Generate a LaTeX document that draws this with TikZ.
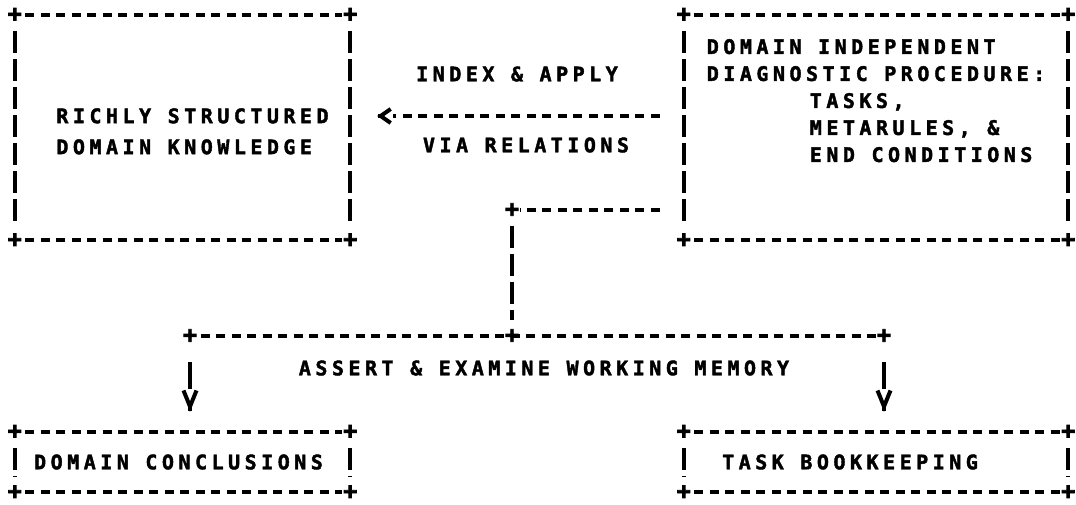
\documentclass[tikz,border=0pt]{standalone}
\usepackage{fontspec}
\newfontfamily\ttyfont{DejaVu Sans Mono Bold}[LetterSpace=22.5, FakeBold=2]
\newfontfamily\crossfont{DejaVu Sans Mono Bold}[FakeBold=3.5]
\usepackage{tikz}
\usetikzlibrary{arrows.meta}
\newcommand{\ttyset}{\ttyfont\fontsize{20}{27}\selectfont}
\tikzstyle{plain}  = [line width=4pt]
\tikzstyle{hdash}  = [plain, dash pattern=on 9pt off 6.5pt, shorten <=10.5pt, shorten >=8pt]
\tikzstyle{vbar}   = [plain, dash pattern=on 22pt off 6pt, shorten <=16pt, shorten >=16pt]
\tikzstyle{vtip}   = [-{Straight Barb[length=16pt,width=13pt]}]
\tikzstyle{ltip}   = [-{Straight Barb[length=10pt,width=14pt]}]
% box drawn the typewriter way: + corners, - tops, | sides
\newcommand{\asciiframe}[1]{%
  \draw[hdash] (#1.north west) -- (#1.north east);
  \draw[hdash] (#1.south west) -- (#1.south east);
  \draw[vbar] (#1.north west) -- (#1.south west);
  \draw[vbar] (#1.north east) -- (#1.south east);
  \foreach \c in {north west,north east,south west,south east}
    \node[plus] at (#1.\c) {+};
}

\begin{document}
\begin{tikzpicture}[
    x=1pt, y=-1pt,
    frame/.style={inner sep=0pt, align=left, font=\ttyset},
    lbl/.style={inner sep=0pt, font=\ttyset},
    plus/.style={inner sep=0pt, font=\crossfont\fontsize{23}{27}\selectfont},
  ]
  \useasboundingbox (0,0) rectangle (1076,505);

  \node[frame, minimum width=335pt, minimum height=225pt] (know) at (182.5,127.5)
    {\rule{0pt}{22.6pt}\hspace*{20pt}RICHLY STRUCTURED\\[4pt] \hspace*{20pt}DOMAIN KNOWLEDGE};
  \node[frame, minimum width=384pt, minimum height=225pt] (proc) at (876,127.5)
    {DOMAIN INDEPENDENT\\ DIAGNOSTIC PROCEDURE:\\
     \hspace*{103pt}TASKS,\\ \hspace*{103pt}METARULES, \&\\ \hspace*{103pt}END CONDITIONS\\
     \mbox{}\\ \mbox{}};
  \node[frame, minimum width=335pt, minimum height=60pt] (concl) at (182.5,462)
    {DOMAIN CONCLUSIONS\hspace*{8pt}};
  \node[frame, minimum width=384pt, minimum height=60pt] (book) at (876,462)
    {TASK BOOKKEEPING\hspace*{52pt}};

  \asciiframe{know}
  \asciiframe{proc}
  \asciiframe{concl}
  \asciiframe{book}

  % index & apply
  \draw[hdash, shorten <=24pt, shorten >=43pt]
    ([yshift=11.5pt]proc.west) -- ([yshift=11.5pt]know.east)
    node[lbl, midway, yshift=42pt] (idx) {INDEX \& APPLY}
    node[lbl, midway, yshift=-29pt, xshift=9pt] (via) {VIA RELATIONS};
  \coordinate (lhead) at ([xshift=27pt,yshift=11.5pt]know.east);
  \draw[plain, ltip] ([xshift=1pt]lhead) -- (lhead);

  % working memory
  \coordinate (bend) at (512,210);
  \coordinate (junc) at (512,336);
  \coordinate (wl) at (190,336);
  \coordinate (wr) at (884,336);
  \draw[hdash, shorten <=24pt] ([yshift=-82.5pt]proc.west) -- (bend);
  \draw[vbar] (bend) -- (junc);
  \draw[hdash] (wl) -- (wr);
  \foreach \p in {bend,junc,wl,wr}
    \node[plus] at (\p) {+};
  \node[lbl] (wm) at (544,368) {ASSERT \& EXAMINE WORKING MEMORY};
  \draw[plain, shorten <=26pt, shorten >=43pt] (wl) -- (wl |- concl.north);
  \draw[plain, shorten <=26pt, shorten >=43pt] (wr) -- (wr |- book.north);
  \coordinate (dl) at ([yshift=20pt]wl |- concl.north);
  \coordinate (dr) at ([yshift=20pt]wr |- book.north);
  \draw[plain, vtip] ([yshift=1pt]dl) -- (dl);
  \draw[plain, vtip] ([yshift=1pt]dr) -- (dr);
\end{tikzpicture}
\end{document}
